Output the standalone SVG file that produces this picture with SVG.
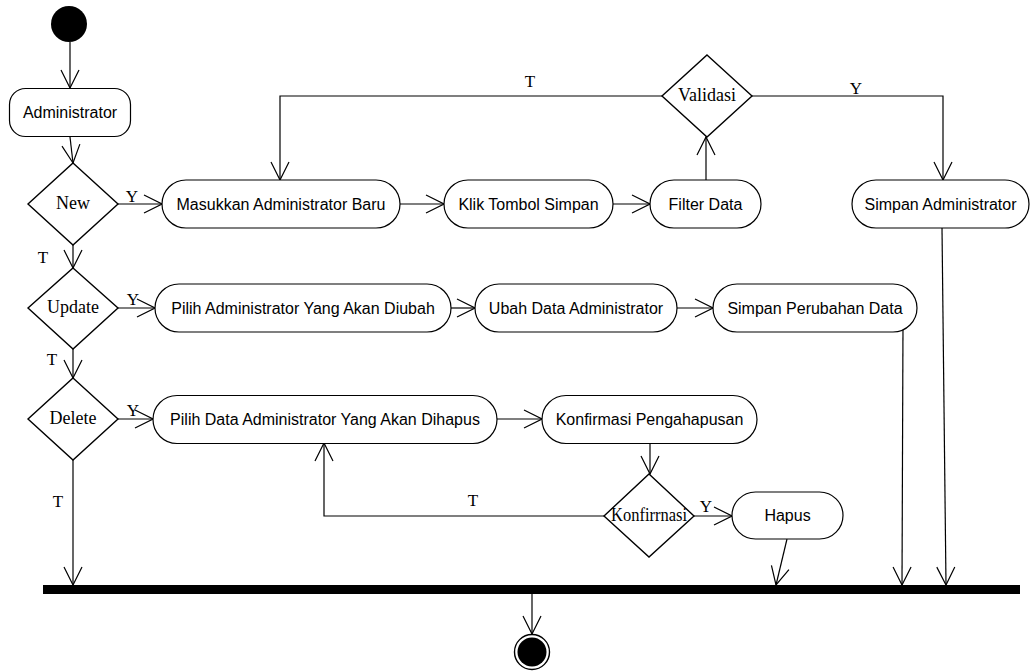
<svg xmlns="http://www.w3.org/2000/svg" width="1030" height="671" viewBox="0 0 1030 671">
  <style>
    .act { fill: #fff; stroke: #000; stroke-width: 1.2; }
    .dec { fill: #fff; stroke: #000; stroke-width: 1.4; }
    .atxt { font-family: "Liberation Sans", Arial, sans-serif; font-size: 16px; fill: #000; text-anchor: middle; }
    .dtxt { font-family: "Liberation Serif", "Times New Roman", serif; font-size: 18px; fill: #000; text-anchor: middle; }
    .lbl { font-family: "Liberation Serif", "Times New Roman", serif; font-size: 17px; fill: #000; text-anchor: middle; }
    .flow { fill: none; stroke: #000; stroke-width: 1.2; marker-end: url(#open); }
  </style>
  <defs>
    <marker id="open" viewBox="0 0 20 20" refX="19" refY="10" markerWidth="20" markerHeight="20" markerUnits="userSpaceOnUse" orient="auto">
      <path d="M1,1 L19,10 L1,19" fill="none" stroke="#000" stroke-width="1.2"/>
    </marker>
  </defs>
  <rect width="1030" height="671" fill="#fff"/>

  <!-- flows -->
  <g id="connectors">
    <path class="flow" d="M70,42 L70,88"/>
    <path class="flow" d="M70,137 L73,163"/>
    <path class="flow" d="M118,204 L162,204"/>
    <path class="flow" d="M400,204 L444,204"/>
    <path class="flow" d="M613,204 L650,204"/>
    <path class="flow" d="M706,180 L706,137"/>
    <path class="flow" d="M662,96 L280,96 L280,180"/>
    <path class="flow" d="M752,96 L943,96 L943,180"/>
    <path class="flow" d="M942,228 L946,585"/>
    <path class="flow" d="M73,245 L73,268"/>
    <path class="flow" d="M118,308 L155,308"/>
    <path class="flow" d="M451,308 L475,308"/>
    <path class="flow" d="M677,308 L713,308"/>
    <path class="flow" d="M903,323 L902,585"/>
    <path class="flow" d="M73,349 L73,378"/>
    <path class="flow" d="M118,419 L153,419"/>
    <path class="flow" d="M497,419 L542,419"/>
    <path class="flow" d="M650,443 L650,474"/>
    <path class="flow" d="M604,516 L324,516 L324,443"/>
    <path class="flow" d="M694,516 L732,516"/>
    <path class="flow" d="M787,539 L776,585"/>
    <path class="flow" d="M73,460 L73,585"/>
    <path class="flow" d="M532,594 L532,634"/>

    <text class="lbl" x="132" y="202">Y</text>
    <text class="lbl" x="530" y="87">T</text>
    <text class="lbl" x="856" y="94">Y</text>
    <text class="lbl" x="43" y="263">T</text>
    <text class="lbl" x="133" y="305">Y</text>
    <text class="lbl" x="52" y="365">T</text>
    <text class="lbl" x="133" y="416">Y</text>
    <text class="lbl" x="473" y="506">T</text>
    <text class="lbl" x="706" y="512">Y</text>
    <text class="lbl" x="58" y="507">T</text>
  </g>

  <g id="start">
    <circle cx="69" cy="24" r="18" fill="#000"/>
  </g>

  <g id="administrator">
    <rect class="act" x="9.5" y="88.5" width="121" height="48" rx="16"/>
    <text class="atxt" x="70" y="118">Administrator</text>
  </g>

  <g id="dec-new">
    <polygon class="dec" points="73,163 118,204 73,245 28,204"/>
    <text class="dtxt" x="73" y="209">New</text>
  </g>

  <g id="masukkan-admin">
    <rect class="act" x="162" y="180" width="238" height="48" rx="24"/>
    <text class="atxt" x="281" y="209.5">Masukkan Administrator Baru</text>
  </g>

  <g id="klik-simpan">
    <rect class="act" x="444" y="180" width="169" height="48" rx="24"/>
    <text class="atxt" x="528.5" y="209.5">Klik Tombol Simpan</text>
  </g>

  <g id="filter-data">
    <rect class="act" x="650" y="180" width="111" height="48" rx="24"/>
    <text class="atxt" x="705.5" y="209.5">Filter Data</text>
  </g>

  <g id="dec-validasi">
    <polygon class="dec" points="707,55 752,96 707,137 662,96"/>
    <text class="dtxt" x="707" y="101" font-size="19">Validasi</text>
  </g>

  <g id="simpan-admin">
    <rect class="act" x="852" y="180" width="177" height="48" rx="24"/>
    <text class="atxt" x="940.5" y="209.5">Simpan Administrator</text>
  </g>

  <g id="dec-update">
    <polygon class="dec" points="73,268 118,308 73,349 28,308"/>
    <text class="dtxt" x="73" y="313">Update</text>
  </g>

  <g id="pilih-admin">
    <rect class="act" x="155" y="284" width="296" height="48" rx="24"/>
    <text class="atxt" x="303" y="313.5">Pilih Administrator Yang Akan Diubah</text>
  </g>

  <g id="ubah-data">
    <rect class="act" x="475" y="284" width="202" height="48" rx="24"/>
    <text class="atxt" x="576" y="313.5">Ubah Data Administrator</text>
  </g>

  <g id="simpan-perubahan">
    <rect class="act" x="713" y="284" width="204" height="48" rx="24"/>
    <text class="atxt" x="815" y="313.5">Simpan Perubahan Data</text>
  </g>

  <g id="dec-delete">
    <polygon class="dec" points="73,378 118,419 73,460 28,419"/>
    <text class="dtxt" x="73" y="424">Delete</text>
  </g>

  <g id="pilih-data">
    <rect class="act" x="153" y="395.5" width="344" height="48" rx="24"/>
    <text class="atxt" x="325" y="425">Pilih Data Administrator Yang Akan Dihapus</text>
  </g>

  <g id="konfirmasi-hapus">
    <rect class="act" x="542" y="395.5" width="215" height="48" rx="24"/>
    <text class="atxt" x="649.5" y="425">Konfirmasi Pengahapusan</text>
  </g>

  <g id="dec-konfirmasi">
    <polygon class="dec" points="649,474 694,516 649,557 604,516"/>
    <text class="dtxt" x="649" y="521" font-size="15" textLength="76" lengthAdjust="spacingAndGlyphs">Konfirrnasi</text>
  </g>

  <g id="hapus">
    <rect class="act" x="732" y="492" width="111" height="47" rx="23.5"/>
    <text class="atxt" x="787.5" y="521">Hapus</text>
  </g>

  <g id="join-bar">
    <rect x="43" y="585" width="977" height="9" fill="#000"/>
  </g>

  <g id="end">
    <circle cx="532" cy="652" r="17.5" fill="#fff" stroke="#000" stroke-width="1.4"/>
    <circle cx="532" cy="652" r="14.5" fill="#000"/>
  </g>
</svg>
